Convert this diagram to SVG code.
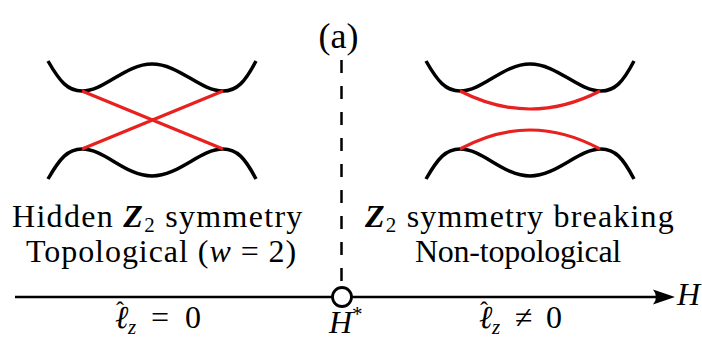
<svg xmlns="http://www.w3.org/2000/svg" width="702" height="345" viewBox="0 0 702 345">
<style>
.blk{fill:none;stroke:#000;stroke-width:3.5}
.red{fill:none;stroke:#e8201e;stroke-width:3.2}
.i{font-style:italic}
.b{font-weight:bold;font-style:italic}
</style>
<defs>
<path id="band" d="M48,61 C60,82 68,91 82,91 C105,91 125,64 152,64 C179,64 200,91 223,91 C237,91 245,82 256,61 M48,179 C60,158 68,149 82,149 C105,149 125,176 152,176 C179,176 200,149 223,149 C237,149 245,158 256,179"/>
</defs>
<rect width="702" height="345" fill="#fff"/>
<g id="label-a"><text x="338.5" y="48" text-anchor="middle" font-family="Liberation Serif" font-size="36">(a)</text></g>
<g id="left-bands">
<use href="#band" class="blk"/>
<path class="red" d="M82,91 L223,149 M82,149 L223,91"/>
</g>
<g id="right-bands">
<use href="#band" class="blk" transform="translate(378,0)"/>
<path class="red" d="M460,91 Q530,127 600,91 M460,149 Q530,111 600,149"/>
</g>
<g id="connectors">
<line x1="341.5" y1="60" x2="341.5" y2="287" stroke="#000" stroke-width="2.5" stroke-dasharray="13,13"/>
<line x1="15" y1="297" x2="660" y2="297" stroke="#000" stroke-width="2.5"/>
<path d="M675,297 L653,289.5 Q659,297 653,304.5 Z" fill="#000"/>
</g>
<g id="critical-point"><circle cx="342" cy="297" r="9.5" fill="#fff" stroke="#000" stroke-width="2.8"/></g>
<g id="left-text">
<text x="12" y="227" font-family="Liberation Serif" font-size="32" letter-spacing="1.3">Hidden <tspan class="b">Z</tspan><tspan font-size="21" dy="5">2</tspan><tspan dy="-5"> symmetry</tspan></text>
<text x="26" y="262" font-family="Liberation Serif" font-size="32" letter-spacing="0.95">Topological (<tspan class="i">w</tspan> = 2)</text>
<text font-family="Liberation Serif" font-size="32"><tspan class="i" x="115" y="328">ℓ</tspan><tspan class="i" font-size="21" x="128" y="334">z</tspan><tspan x="151" y="328">=</tspan><tspan x="185" y="328">0</tspan><tspan x="116" y="318" font-size="24">ˆ</tspan></text>
</g>
<g id="hstar"><text x="329" y="333" font-family="Liberation Serif" font-size="32" font-style="italic">H<tspan font-size="21" font-style="normal" dy="-12">*</tspan></text></g>
<g id="right-text">
<text x="365" y="227" font-family="Liberation Serif" font-size="32" letter-spacing="1.2"><tspan class="b">Z</tspan><tspan font-size="21" dy="5">2</tspan><tspan dy="-5"> symmetry breaking</tspan></text>
<text x="415" y="262" font-family="Liberation Serif" font-size="32" letter-spacing="-0.25">Non-topological</text>
<text font-family="Liberation Serif" font-size="32"><tspan class="i" x="479" y="328">ℓ</tspan><tspan class="i" font-size="21" x="492" y="334">z</tspan><tspan x="515" y="328">≠</tspan><tspan x="546" y="328">0</tspan><tspan x="480" y="318" font-size="24">ˆ</tspan></text>
</g>
<g id="axis-label"><text x="677" y="305" font-family="Liberation Serif" font-size="32" font-style="italic">H</text></g>
</svg>
